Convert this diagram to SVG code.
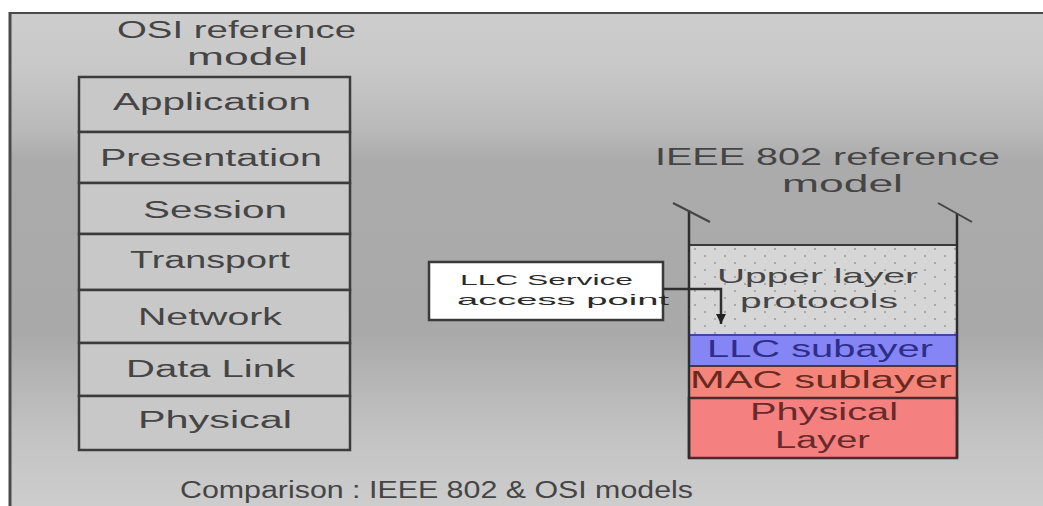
<svg xmlns="http://www.w3.org/2000/svg" width="1043" height="506" viewBox="0 0 1043 506">
  <defs>
    <linearGradient id="bg" x1="0" y1="0" x2="0" y2="1" gradientUnits="objectBoundingBox">
      <stop offset="0" stop-color="#cdcdcd"/>
      <stop offset="0.1" stop-color="#c9c9c9"/>
      <stop offset="0.16" stop-color="#c2c2c2"/>
      <stop offset="0.24" stop-color="#b9b9b9"/>
      <stop offset="0.3" stop-color="#ababab"/>
      <stop offset="0.65" stop-color="#a9a9a9"/>
      <stop offset="0.75" stop-color="#b6b6b6"/>
      <stop offset="0.86" stop-color="#c3c3c3"/>
      <stop offset="1" stop-color="#cdcdcd"/>
    </linearGradient>
    <pattern id="dots" x="0" y="0" width="20" height="14" patternUnits="userSpaceOnUse">
      <rect width="20" height="14" fill="#d6d6d6"/>
      <circle cx="5" cy="4" r="1" fill="#9a9a9a"/>
      <circle cx="15" cy="11" r="1" fill="#9a9a9a"/>
    </pattern>
    <marker id="arrow" viewBox="0 0 10 10" refX="10" refY="5" markerWidth="10" markerHeight="14" orient="auto" markerUnits="userSpaceOnUse">
      <path d="M0,0 L10,5 L0,10 z" fill="#222"/>
    </marker>
    <style>
      .t { font-family: "Liberation Sans", Arial, sans-serif; font-size: 23px; fill: #454545; }
      .osi { fill: #c8c8c8; stroke: #3c3c3c; stroke-width: 2.5; }
      .small { font-family: "Liberation Sans", Arial, sans-serif; font-size: 15px; fill: #2a2a2a; }
      .line { stroke: #2e2e2e; stroke-width: 2.5; fill: none; }
      .tick { stroke: #444; stroke-width: 2; fill: none; }
    </style>
  </defs>

  <g id="background">
    <rect x="0" y="0" width="1043" height="506" fill="#ffffff"/>
    <rect x="9" y="13" width="1034" height="493" fill="url(#bg)"/>
    <line x1="10" y1="12" x2="10" y2="506" stroke="#4a4a4a" stroke-width="3"/>
    <line x1="9" y1="13" x2="1043" y2="13" stroke="#4a4a4a" stroke-width="2"/>
  </g>

  <g id="osi-title">
    <text class="t" x="117" y="38" textLength="239" lengthAdjust="spacingAndGlyphs">OSI reference</text>
    <text class="t" x="187" y="65" textLength="121" lengthAdjust="spacingAndGlyphs">model</text>
  </g>

  <g id="osi-application">
    <rect class="osi" x="79" y="77" width="271" height="55"/>
    <text class="t" x="113" y="110" textLength="198" lengthAdjust="spacingAndGlyphs">Application</text>
  </g>
  <g id="osi-presentation">
    <rect class="osi" x="79" y="132" width="271" height="51"/>
    <text class="t" x="100" y="166" textLength="222" lengthAdjust="spacingAndGlyphs">Presentation</text>
  </g>
  <g id="osi-session">
    <rect class="osi" x="79" y="183" width="271" height="51"/>
    <text class="t" x="143" y="218" textLength="144" lengthAdjust="spacingAndGlyphs">Session</text>
  </g>
  <g id="osi-transport">
    <rect class="osi" x="79" y="234" width="271" height="56"/>
    <text class="t" x="130" y="268" textLength="160" lengthAdjust="spacingAndGlyphs">Transport</text>
  </g>
  <g id="osi-network">
    <rect class="osi" x="79" y="290" width="271" height="53"/>
    <text class="t" x="138" y="325" textLength="144" lengthAdjust="spacingAndGlyphs">Network</text>
  </g>
  <g id="osi-datalink">
    <rect class="osi" x="79" y="343" width="271" height="53"/>
    <text class="t" x="126" y="377" textLength="169" lengthAdjust="spacingAndGlyphs">Data Link</text>
  </g>
  <g id="osi-physical">
    <rect class="osi" x="79" y="396" width="271" height="54"/>
    <text class="t" x="138" y="428" textLength="154" lengthAdjust="spacingAndGlyphs">Physical</text>
  </g>

  <g id="ieee-title">
    <text class="t" x="655" y="165" textLength="345" lengthAdjust="spacingAndGlyphs">IEEE 802 reference</text>
    <text class="t" x="782" y="192" textLength="121" lengthAdjust="spacingAndGlyphs">model</text>
  </g>

  <g id="ieee-upper">
    <rect x="689" y="245" width="268" height="90" fill="url(#dots)"/>
    <line x1="689" y1="245" x2="957" y2="245" stroke="#3a3a3a" stroke-width="2"/>
    <text class="t" x="717" y="283" textLength="201" lengthAdjust="spacingAndGlyphs" style="font-size:21px">Upper layer</text>
    <text class="t" x="740" y="308" textLength="158" lengthAdjust="spacingAndGlyphs" style="font-size:21px">protocols</text>
  </g>
  <g id="ieee-llc">
    <rect x="689" y="335" width="268" height="30" fill="#8585f5"/>
    <line x1="689" y1="335" x2="957" y2="335" stroke="#4545a0" stroke-width="2"/>
    <text class="t" x="707" y="357" textLength="226" lengthAdjust="spacingAndGlyphs" style="fill:#2e2e8a">LLC subayer</text>
  </g>
  <g id="ieee-mac">
    <rect x="689" y="365" width="268" height="32" fill="#f5857a"/>
    <line x1="689" y1="366" x2="957" y2="366" stroke="#5a3030" stroke-width="2"/>
    <text class="t" x="690" y="388" textLength="262" lengthAdjust="spacingAndGlyphs" style="fill:#6a2a20">MAC sublayer</text>
  </g>
  <g id="ieee-physical">
    <rect x="689" y="398" width="268" height="60" fill="#f58080" stroke="#4a2a2a" stroke-width="2.5"/>
    <text class="t" x="750" y="420" textLength="148" lengthAdjust="spacingAndGlyphs" style="fill:#6a2a2a">Physical</text>
    <text class="t" x="775" y="448" textLength="95" lengthAdjust="spacingAndGlyphs" style="fill:#6a2a2a">Layer</text>
  </g>

  <g id="ieee-frame">
    <line class="line" x1="689" y1="210" x2="689" y2="458"/>
    <line class="line" x1="957" y1="213" x2="957" y2="458"/>
    <line class="tick" x1="673" y1="203" x2="710" y2="222"/>
    <line class="tick" x1="938" y1="203" x2="972" y2="222"/>
  </g>

  <g id="llc-sap">
    <rect x="429" y="262" width="234" height="58" fill="#ffffff" stroke="#3a3a3a" stroke-width="2.5"/>
    <text class="small" x="460" y="285" textLength="173" lengthAdjust="spacingAndGlyphs">LLC Service</text>
    <text class="small" x="457" y="305" textLength="212" lengthAdjust="spacingAndGlyphs">access point</text>
  </g>

  <g id="connectors">
    <path class="line" d="M663,289 H721 V324" stroke-width="2" marker-end="url(#arrow)"/>
  </g>

  <g id="caption">
    <text class="t" x="180" y="498" textLength="513" lengthAdjust="spacingAndGlyphs">Comparison : IEEE 802 &amp; OSI models</text>
  </g>
</svg>
